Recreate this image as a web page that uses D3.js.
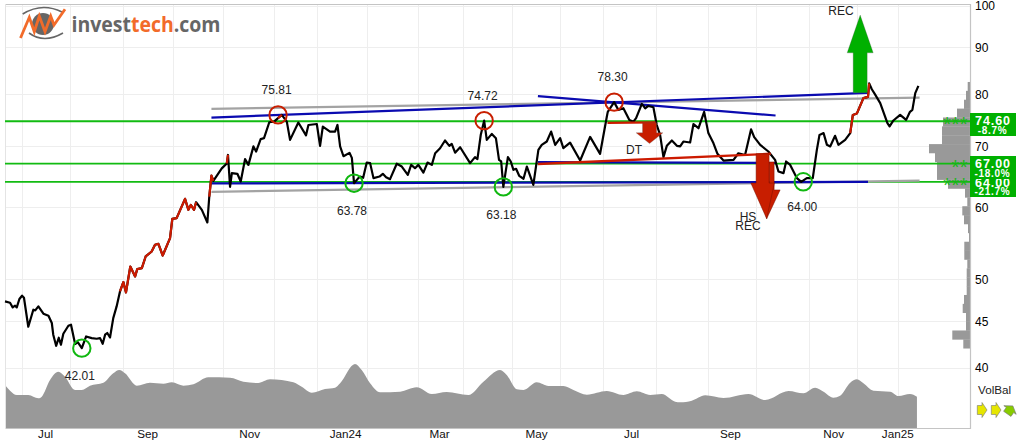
<!DOCTYPE html>
<html>
<head>
<meta charset="utf-8">
<script src="https://cdn.jsdelivr.net/npm/d3@7"></script>
<style>
  html, body { margin: 0; padding: 0; background: #fff; }
  svg { display: block; font-family: "Liberation Sans", Arial, sans-serif; }
  text { fill: #222; }
</style>
</head>
<body>
<div id="chart"></div>
<script>
// Trading sessions counted from the left edge of the plot.
const monthStartSessions = [7,27,49,70,91,112,130,151,172,191,211,231,249,271,293,313,335,355,372];
const monthLabelSessions = [16.7,59.2,101.7,141.7,180.8,221.25,260.8,302,345,371.7];
const monthLabels = ["Jul","Sep","Nov","Jan24","Mar","May","Jul","Sep","Nov","Jan25"];
const priceTicks = [40,45,50,60,70,80,90,100];

// Closing price
const priceSessions = [0,2.1,3.2,4.2,4.9,6,7.1,7.9,9.7,11.8,12.6,13.9,16,18.1,19.5,20.1,21.3,22.4,23.3,24.3,26.4,27.5,29.2,30.3,32,33.8,36.1,38.2,39.6,40.7,41.7,42.6,43.75,45.1,46.5,47.9,49.3,50.4,52.2,54.2,55.1,57,58.6,61.1,62.5,63.9,65.7,68.75,69.7,71.5,75,76.4,77.4,78.75,79.6,82,84.3,85.1,86,86.8,90.3,92.4,92.9,93.75,94.5,96.8,98.2,100,101.4,103.5,104.6,106.5,107.9,110.1,112.1,113.75,115.3,117.4,118.75,122.2,125.4,126.4,129.9,131.25,132.4,135.4,137.5,138.5,139.6,141,143.5,144.5,145.4,147.2,147.9,149.2,150.7,152.1,153.5,156,157.4,158.75,160.4,163.2,165.3,167.8,169.2,170.8,172.2,174.3,176,177.8,179.2,181.25,183.3,185.1,186.1,187.5,189.6,193.75,195.8,196.8,198.2,199.6,200.7,202.8,204.5,205.8,206.7,207.6,209.5,210.7,211.8,212.9,214.2,216,217.4,220.1,222.2,223.6,225.7,227.5,229.2,231.25,232.6,235.4,239.6,243.75,247.9,250.7,251.1,253.75,255.5,257.6,260.1,261.8,262.9,265.3,266.7,268,270.1,271.5,272.9,274.3,275.7,277.8,279.9,281.25,282.6,285.4,286.8,288.9,291.25,293,295.1,296.8,299.3,303.5,305.5,308.3,310.8,312.1,314.6,318,320.8,322.2,324.3,325.4,327.1,329.9,331.7,334,336.5,338.2,339.3,341,342.4,343.75,345.8,347.2,350,352.1,353.2,354.9,357.6,359.5,360,361.1,362.5,364.6,367.6,368.5,370.1,372.9,375.4,377,378,379.2,380.5];
const priceValues = [47.28,47.13,46.57,46.77,46.57,47.57,47.97,47.72,44.35,46.3,46.22,46.69,45.84,45.6,44.77,43.46,42.26,43.13,42.37,43.57,44.46,44.58,42.45,42.66,42.01,43.27,43.09,43.02,43.09,42.48,43.46,43.65,43.16,45.33,46.69,48.49,49.66,48.37,51.65,50.37,51.31,51.44,52.98,53.65,54.57,54.71,53.11,55.5,58.28,58.38,61.3,59.62,60.37,59.62,60.78,59.62,57.74,61.66,65,64.14,66.22,67.05,68.5,63.2,65.42,65.31,64.05,67.78,66.8,70,69.1,71.31,71.48,74.41,74.53,75.2,75.81,74.53,71.17,74.36,71.99,73.9,74.08,70.1,73.6,72.68,72.68,73.9,70,68.28,68.87,68,63.78,64.6,64.86,64.65,67.2,67.1,64.6,64.86,65.31,64.76,64.43,67,66.52,65.14,66.8,66.25,66.8,65.5,67.2,66.8,68.8,69.67,71.05,70.1,70.45,68.9,69.85,67.1,68.13,67.78,72.1,74.72,71.17,72.25,71.47,67.66,67.38,63.18,68.13,67.38,65.97,66.14,64.98,64.5,66.52,63.5,69.39,70.28,70.87,72.68,70.28,71.47,69.69,70.68,67.54,71.7,68.7,75.45,76.4,78.3,76.78,77.1,74.86,74.53,75.2,77.95,77.1,77.55,77.3,73.9,72.07,68.13,70.1,71.05,70.1,70,70.87,70.7,74.08,73.3,76.4,72.4,70.6,68.7,67.54,67.66,68.8,68.5,73.1,71.67,70.28,69.1,67.66,65.7,65.42,67.38,66.8,64.6,64,64.6,64.6,69.39,72.07,72.4,70.28,70,71.9,70.28,71.17,72.4,75.8,76.1,79.1,79.35,82.1,80.9,79.8,78.1,74.25,73.65,74.75,75.83,74.86,76.4,76.78,80.1,81.6];
// Stretches of the price line drawn in the rising-trend colour
const risingStretches = [[47.9,79.6],[85.1,86.8],[92.4,92.9],[113.75,115.3],[352.1,360]];

// Volume balance
const volumeSessions = [0,2.1,4.9,9.7,13.9,15.3,18.75,22.2,25,29.2,32,35.4,41,45.1,47.6,50,54.9,60.4,66,69.5,74.3,78.5,84.7,93.75,99.3,105.5,110.4,120.1,123.6,127.8,133.3,137.5,139.6,145.8,148.6,152.1,156.25,164.6,171.5,177.8,184,193,199.3,206.25,209,213.2,216,221.5,226.4,232.6,236.8,242.4,250.7,257.6,263.2,268.75,273.6,279.2,281.25,286.1,291.7,299.3,309.7,316.7,326.4,332.6,337.5,341,345.1,347.9,352.1,354.9,357.6,361.8,368.75,372.2,377,379.9];
const volumeValues = [43,37.3,33,33,29.7,31.3,48,56.3,51.3,38,38,42.3,45.3,54.7,58,54.7,42.3,45.3,44.3,45.7,42.3,43.7,50.7,50.3,46.3,45,48.7,45.7,41.3,35.3,39,40.3,44.7,64,58,44.7,35.7,36.3,40.7,34,36,33,46.3,58,53,38.7,38,45.7,42,42,38,33.3,37,33,36.7,33,34,26.3,25.7,27.3,32.7,30,34,28,37,34.7,40.3,36.3,30.3,32.3,45.3,48.7,44.7,37.3,36.3,32,34,31.3];

// Traded volume per price band, highest band first
const profileValues = [2.3,4,6,13,27,28,28,41,35,33,33,22,5,2.7,7.7,6,2,1,5.7,5.7,2.7,3.3,3.3,3.3,6,7.3,4,4,17.7,6.7];
const profileTopPrice = 82.4;
const profileBottomPrice = 42;

// Support and resistance levels with their tags
const levelPrices = [64,67,74.6];
const levelLabels = ["64.00","67.00","74.60"];
const levelChanges = ["-21.7%","-18.0%","-8.7%"];
const levelStars = ["***","**","***"];

// Trend lines: [start session, start price, end session, end price]
const grayLines = [[86,76.98,381,79.2],[86,62.4,381,64.2]];
const blueLines = [[86,75.3,359.5,80.17],[222,79.5,321,75.7],[86,63.74,359.5,64.0],[222,67.28,321,67.15]];
const redLines = [[222,66.94,319,68.7],[251,74.3,271,74.4]];

// Pivot points
const topSessions = [113.75,199.6,253.75];
const topValues = [75.81,74.72,78.3];
const bottomSessions = [32,145.4,207.6,331.7];
const bottomValues = [42.01,63.78,63.18,64];

// Pattern arrows: session, tail price, head-base price, tip price, half widths of shaft and head
const arrows = [
  { s: 356.25, tail: 80.17, base: 88.7, tip: 97.6, shaft: 7, head: 13, fill: "#00b000" },
  { s: 268.5, tail: 74.3, base: 72.45, tip: 70.5, shaft: 7, head: 13.4, fill: "#c81e00" }
];
// Head-and-shoulders target: two overlapping arrows sharing one tip
const hsBackSessions = [318.3,320.4,320.4,322.9,317.3,314.6,318.3];
const hsBackPrices = [67.3,67.3,62.7,62.7,58.3,62.7,62.7];
const hsFrontSessions = [312.9,318.3,318.3,320.5,317.3,310.7,312.9];
const hsFrontPrices = [68.7,68.7,63.8,63.8,58.3,63.8,63.8];
const volBalLabel = "VolBal";

const width = 1020, height = 448;
const plot = { left: 5, right: 970, top: 4, bottom: 428 };

const svg = d3.select("#chart").append("svg").attr("width", width).attr("height", height);
const x = d3.scaleLinear().domain([0, 402]).range([plot.left, plot.right]);
const y = d3.scaleLog().domain([40, 100]).range([367.5, 5.5]);
const v = d3.scaleLinear().domain([0, 70]).range([plot.bottom, plot.bottom - 70]);
const w = d3.scaleLinear().domain([0, 41]).range([0, 41]);

// Grid
const grid = svg.append("g").attr("stroke", "#eeeeee").attr("stroke-width", 1);
grid.selectAll(".h").data(priceTicks).join("line")
  .attr("x1", plot.left).attr("x2", plot.right)
  .attr("y1", d => Math.round(y(d)) + .5).attr("y2", d => Math.round(y(d)) + .5);
grid.selectAll(".v").data(monthStartSessions).join("line")
  .attr("y1", plot.top).attr("y2", plot.bottom)
  .attr("x1", d => Math.round(x(d)) + .5).attr("x2", d => Math.round(x(d)) + .5);

// Volume area
const volumePoints = volumeSessions.map((s, i) => [s, volumeValues[i]]);
svg.append("path").datum(volumePoints)
  .attr("fill", "#999999")
  .attr("d", d3.area().x(d => x(d[0])).y0(plot.bottom).y1(d => v(d[1])).curve(d3.curveMonotoneX));

// Price profile
const bandRatio = Math.pow(profileBottomPrice / profileTopPrice, 1 / profileValues.length);
svg.append("g").attr("fill", "#999999").selectAll("rect").data(profileValues).join("rect")
  .attr("x", d => plot.right - w(d)).attr("width", d => w(d))
  .attr("y", (d, i) => y(profileTopPrice * Math.pow(bandRatio, i)))
  .attr("height", (d, i) => y(profileTopPrice * Math.pow(bandRatio, i + 1)) - y(profileTopPrice * Math.pow(bandRatio, i)) + .3);

// Frame
const frame = svg.append("g").attr("stroke", "#c4c4c4").attr("fill", "none");
frame.append("path").attr("d", `M${plot.left + .5},${plot.top + .5}H${plot.right + .5}V${plot.bottom + .5}H${plot.left + .5}`).attr("stroke-width", 1.2);
frame.append("path").attr("d", `M${plot.left + .5},${plot.top + .5}V${plot.bottom + .5}`).attr("stroke", "#e4e4e4");

// Level lines
svg.append("g").attr("stroke", "#12bb12").attr("stroke-width", 1.8).selectAll("line").data(levelPrices).join("line")
  .attr("x1", plot.left).attr("x2", plot.right)
  .attr("y1", d => y(d)).attr("y2", d => y(d));

// Trend lines
function segments(rows, colour, thickness) {
  svg.append("g").attr("stroke", colour).attr("stroke-width", thickness).selectAll("line").data(rows).join("line")
    .attr("x1", d => x(d[0])).attr("y1", d => y(d[1]))
    .attr("x2", d => x(d[2])).attr("y2", d => y(d[3]));
}
segments(grayLines, "#a3a3a3", 2.2);
segments(blueLines, "#0a0ab0", 2.2);

// Price line
const pricePoints = priceSessions.map((s, i) => [s, priceValues[i]]);
const priceLine = d3.line().x(d => x(d[0])).y(d => y(d[1]));
svg.append("path").datum(pricePoints).attr("fill", "none").attr("stroke", "#000").attr("stroke-width", 2.2)
  .attr("stroke-linejoin", "round").attr("d", priceLine);
risingStretches.forEach(([from, to]) => {
  svg.append("path").datum(pricePoints.filter(d => d[0] >= from && d[0] <= to))
    .attr("fill", "none").attr("stroke", "#cc1a00").attr("stroke-width", 2.2)
    .attr("stroke-linejoin", "round").attr("d", priceLine);
});
segments(redLines, "#cc1a00", 2.4);

// Pivot rings and their values
svg.append("g").attr("fill", "none").attr("stroke", "#c81e00").attr("stroke-width", 2)
  .selectAll("circle").data(topSessions).join("circle")
  .attr("cx", d => x(d)).attr("cy", (d, i) => y(topValues[i])).attr("r", 8.7);
svg.append("g").attr("fill", "none").attr("stroke", "#10b810").attr("stroke-width", 2)
  .selectAll("circle").data(bottomSessions).join("circle")
  .attr("cx", d => x(d) + (d === 331.7 ? 2 : 0)).attr("cy", (d, i) => y(bottomValues[i])).attr("r", 8.7);
svg.append("g").attr("font-size", 12).attr("text-anchor", "middle").selectAll("text").data(topValues).join("text")
  .attr("x", (d, i) => x(topSessions[i]) - 1.5).attr("y", d => y(d) - 21).text(d => d.toFixed(2));
svg.append("g").attr("font-size", 12).attr("text-anchor", "middle").selectAll("text").data(bottomValues).join("text")
  .attr("x", (d, i) => x(bottomSessions[i]) - 2 + (i === 3 ? 3 : 0)).attr("y", (d, i) => y(d) + 32 + (i === 3 ? -2.5 : 0)).text(d => d.toFixed(2));

// Pattern arrows
function arrowPath(a) {
  const c = x(a.s);
  return `M${c - a.shaft},${y(a.tail)}L${c - a.shaft},${y(a.base)}L${c - a.head},${y(a.base)}L${c},${y(a.tip)}L${c + a.head},${y(a.base)}L${c + a.shaft},${y(a.base)}L${c + a.shaft},${y(a.tail)}Z`;
}
svg.append("g").selectAll("path").data(arrows).join("path")
  .attr("d", arrowPath).attr("fill", d => d.fill).attr("stroke", "#555").attr("stroke-opacity", .45).attr("stroke-width", .6);

const outline = d3.line().x(d => x(d[0])).y(d => y(d[1]));
svg.append("path").attr("fill", "#c81e00").attr("stroke", "#7a1200").attr("stroke-width", .5)
  .attr("d", outline(hsBackSessions.map((s, i) => [s, hsBackPrices[i]])) + "Z");
svg.append("path").attr("fill", "#c81e00").attr("stroke", "#7a1200").attr("stroke-width", .5)
  .attr("d", outline(hsFrontSessions.map((s, i) => [s, hsFrontPrices[i]])) + "Z");

const notes = [["REC",841,15],["DT",634,154],["HS",748,221],["REC",748,230]];
svg.append("g").attr("font-size", 12).attr("text-anchor", "middle").selectAll("text").data(notes).join("text")
  .attr("x", d => d[1]).attr("y", d => d[2]).text(d => d[0]);

// Axes
const axisY = svg.append("g").attr("transform", `translate(${plot.right},0.5)`)
  .call(d3.axisRight(y).tickValues(priceTicks).tickFormat(d3.format("d")).tickSize(0).tickPadding(5));
axisY.select(".domain").remove();
axisY.selectAll("text").attr("font-size", 12).attr("font-family", '"Liberation Sans", Arial, sans-serif').style("fill", "#000");

const axisX = svg.append("g").attr("transform", `translate(0,${plot.bottom})`)
  .call(d3.axisBottom(x).tickValues(monthLabelSessions).tickFormat((d, i) => monthLabels[i]).tickSize(0).tickPadding(2));
axisX.select(".domain").remove();
axisX.selectAll("text").attr("font-size", 11.7).attr("font-family", '"Liberation Sans", Arial, sans-serif').style("fill", "#111");

// Level stars and tags; lower tags first so the one above overlaps them
svg.append("g").selectAll("text").data(levelPrices).join("text")
  .attr("x", 968).attr("y", d => y(d) + 10).attr("text-anchor", "end")
  .attr("font-size", 20).attr("letter-spacing", .5)
  .style("fill", "#14b814").text((d, i) => levelStars[i]);
const tags = svg.append("g").selectAll("g").data(levelPrices).join("g")
  .attr("transform", d => `translate(970,${Math.round(y(d))})`);
tags.append("rect").attr("x", 0).attr("y", -8).attr("width", 46).attr("height", 23).attr("fill", "#00b000");
tags.append("text").attr("x", 23).attr("y", (d, i) => i === 0 ? 5.3 : 4).attr("text-anchor", "middle")
  .attr("font-weight", "bold").attr("font-size", 12.5).attr("letter-spacing", .9)
  .style("fill", "#fff").text((d, i) => levelLabels[i]);
tags.append("text").attr("x", 22.5).attr("y", 13).attr("text-anchor", "middle")
  .attr("font-weight", "bold").attr("font-size", 10).attr("letter-spacing", .7)
  .style("fill", "#fff").text((d, i) => levelChanges[i]);

// Volume balance indicator
svg.append("text").attr("x", 978).attr("y", 394).attr("font-size", 11.7).text(volBalLabel);
const volArrowFills = ["#e6e600", "#e6e600", "#88cc00"];
const volArrowTilts = [0, 0, -55];
svg.append("g").selectAll("path").data(volArrowFills).join("path")
  .attr("transform", (d, i) => `translate(${982 + i * 14},410) rotate(${volArrowTilts[i]})`)
  .attr("d", "M-4.7,-4.5L0,-4.5L0,-7.5L5,0L0,7.5L0,4.5L-4.7,4.5Z")
  .attr("fill", d => d).attr("stroke", "#777").attr("stroke-width", .6);

// Wordmark
const logo = svg.append("g");
logo.append("circle").attr("cx", 43).attr("cy", 24).attr("r", 11).attr("fill", "#666");
logo.append("path").attr("fill", "none").attr("stroke", "#666").attr("stroke-width", 1.6)
  .attr("d", "M22.7,14Q42,2 62,12M29,33Q44,44 63,33");
logo.append("path").attr("fill", "none").attr("stroke", "#f26b2a").attr("stroke-width", 2.8)
  .attr("d", "M20.5,38L29.3,17.3L34.3,31.7L39.3,16L45,31.7L50.7,16L54,25L65,9.3");
const mark = logo.append("text").attr("x", 71.5).attr("y", 31.5).attr("font-family", '"Open Sans"')
  .attr("font-weight", 700).attr("font-size", 21.5)
  .attr("textLength", 149).attr("lengthAdjust", "spacingAndGlyphs");
mark.append("tspan").style("fill", "#666").text("invest");
mark.append("tspan").style("fill", "#f26b2a").text("tech");
mark.append("tspan").style("fill", "#666").text(".com");
</script>
</body>
</html>
